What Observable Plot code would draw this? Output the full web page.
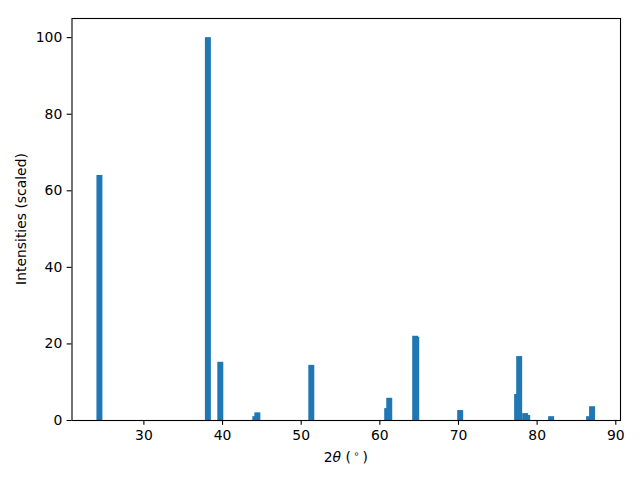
<!DOCTYPE html>
<html>
<head>
<meta charset="utf-8">
<script src="https://cdn.jsdelivr.net/npm/d3@7"></script>
<script src="https://cdn.jsdelivr.net/npm/@observablehq/plot@0.6"></script>
<style>
  html, body { margin: 0; padding: 0; background: #fff; }
  svg { font-family: "DejaVu Sans", sans-serif; }
</style>
</head>
<body>
<div id="chart"></div>
<script>
// Peak positions (2θ, degrees) and scaled intensities
const twoTheta = [24.41, 38.2, 39.78, 44.23, 44.49, 51.35, 61.0, 61.26, 64.56, 64.69, 70.28, 77.52, 77.78, 78.54, 78.8, 81.84, 86.67, 87.05];
const intensities = [64.0, 100, 15.2, 1.0, 2.0, 14.4, 3.1, 5.8, 22.0, 21.7, 2.6, 6.8, 16.7, 1.8, 1.3, 1.0, 1.0, 3.6];
const xTicks = [30, 40, 50, 60, 70, 80, 90];
const yTicks = [0, 20, 40, 60, 80, 100];
const yLabel = "Intensities (scaled)";

const barWidth = 0.76;
const data = twoTheta.map((x, i) => ({x, h: intensities[i]}));

// matplotlib-like 5% margins on x, 5% on top of y
const xmin = d3.min(data, d => d.x - barWidth / 2);
const xmax = d3.max(data, d => d.x + barWidth / 2);
const pad = (xmax - xmin) * 0.05;
const ymax = d3.max(intensities) * 1.05;

const fs = 13.9;
const tick = 4.86;
const lw = 1.1;

const plot = Plot.plot({
  width: 640,
  height: 480,
  marginLeft: 71.5,
  marginRight: 20,
  marginTop: 18,
  marginBottom: 60,
  style: {fontFamily: "DejaVu Sans, sans-serif", fontSize: fs + "px", background: "#fff", color: "#000"},
  x: {domain: [xmin - pad, xmax + pad]},
  y: {domain: [0, ymax]},
  marks: [
    Plot.rectY(data, {x1: d => d.x - barWidth / 2, x2: d => d.x + barWidth / 2, y1: 0, y2: "h", fill: "#1f77b4", insetLeft: 0, insetRight: 0}),
    Plot.axisX({ticks: xTicks, tickSize: tick, tickPadding: tick, strokeWidth: lw, label: null, fontSize: fs}),
    Plot.axisY({ticks: yTicks, tickSize: tick, tickPadding: tick, strokeWidth: lw, label: null, fontSize: fs}),
    Plot.frame({stroke: "#000", strokeWidth: lw})
  ]
});

document.getElementById("chart").appendChild(plot);

const svg = d3.select(plot);
const cx = (71.5 + 620) / 2;
const xl = svg.append("text")
  .attr("x", cx).attr("y", 462)
  .attr("text-anchor", "middle")
  .attr("font-size", fs)
  .attr("fill", "#000");
xl.append("tspan").text("2");
xl.append("tspan").attr("font-style", "italic").text("θ");
xl.append("tspan").text(" (\u2009");
xl.append("tspan").attr("font-size", fs * 0.7).attr("dy", -5).text("∘");
xl.append("tspan").attr("dy", 5).text("\u2009)");

svg.append("text")
  .attr("transform", `translate(26,${(18 + 420) / 2}) rotate(-90)`)
  .attr("text-anchor", "middle")
  .attr("font-size", fs)
  .attr("fill", "#000")
  .text(yLabel);
</script>
</body>
</html>
